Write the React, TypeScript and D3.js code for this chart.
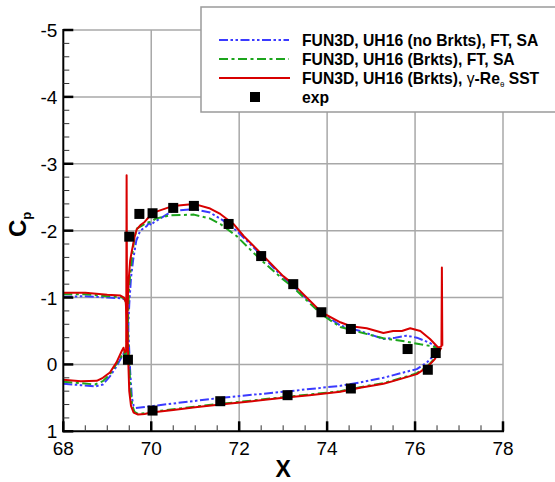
import React from "react";
import * as d3 from "d3";

type P = [number, number];

const xTicks = [68, 70, 72, 74, 76, 78];
const yTicks = [-5, -4, -3, -2, -1, 0, 1];

const seriesLabels = [
  "FUN3D, UH16 (no Brkts), FT, SA",
  "FUN3D, UH16 (Brkts), FT, SA",
  "FUN3D, UH16 (Brkts), ",
];

// blue: no brackets, FT, SA
const blueA: P[] = [
  [68, -1.01], [68.5, -1.02], [69, -1.0], [69.3, -0.99], [69.4, -0.97], [69.45, -0.9],
  [69.48, -0.5], [69.52, 0.1], [69.56, 0.5], [69.6, 0.62], [69.65, 0.65], [69.8, 0.64],
  [70.05, 0.62], [71.57, 0.5], [73.0, 0.41], [74.3, 0.32], [74.75, 0.27], [75.28, 0.2],
  [75.74, 0.12], [76.04, 0.07], [76.27, -0.03], [76.45, -0.15], [76.57, -0.23],
];
const blueB: P[] = [
  [68, 0.29], [68.4, 0.31], [68.72, 0.33], [68.9, 0.3], [69.06, 0.18], [69.2, 0.04],
  [69.3, -0.08], [69.38, -0.17], [69.42, -0.12], [69.46, -0.3], [69.5, -0.9], [69.54, -1.3],
  [69.59, -1.57], [69.66, -1.85], [69.75, -2.0], [69.9, -2.07], [69.95, -2.12], [70.0, -2.08],
  [70.05, -2.12], [70.5, -2.3], [70.97, -2.32], [71.34, -2.27], [71.64, -2.15], [71.94, -2.0],
  [72.48, -1.65], [73.0, -1.3], [73.23, -1.17], [73.87, -0.78], [74.3, -0.58], [74.75, -0.5],
  [75.28, -0.38], [75.55, -0.4], [75.81, -0.43], [76.04, -0.4], [76.34, -0.32], [76.57, -0.23],
];

// green: brackets, FT, SA
const greenA: P[] = [
  [68, -1.05], [68.5, -1.05], [69, -1.02], [69.3, -1.01], [69.4, -0.98], [69.44, -0.9],
  [69.47, -0.5], [69.5, 0.0], [69.53, 0.4], [69.57, 0.62], [69.62, 0.71], [69.7, 0.74],
  [69.85, 0.73], [70, 0.71], [70.5, 0.67], [71, 0.63], [71.57, 0.59], [72.3, 0.54],
  [73, 0.49], [73.6, 0.45], [74.3, 0.4], [74.75, 0.34], [75.28, 0.28], [75.5, 0.24],
  [75.81, 0.18], [76.04, 0.13], [76.27, 0.035], [76.45, -0.09], [76.57, -0.22],
];
const greenB: P[] = [
  [68, 0.26], [68.4, 0.28], [68.72, 0.3], [68.9, 0.25], [69.06, 0.15], [69.2, 0.0],
  [69.3, -0.1], [69.38, -0.18], [69.42, -0.12], [69.46, -0.5], [69.5, -1.2], [69.56, -1.6],
  [69.62, -1.9], [69.67, -2.03], [69.8, -2.08], [69.9, -2.12], [70.0, -2.13], [70.1, -2.18],
  [70.43, -2.23], [70.97, -2.24], [71.34, -2.18], [71.57, -2.1], [71.94, -1.92], [72.48, -1.57],
  [73.0, -1.27], [73.23, -1.15], [73.87, -0.75], [74.3, -0.56], [74.75, -0.48], [75.28, -0.39],
  [75.81, -0.34], [76.12, -0.3], [76.4, -0.27], [76.57, -0.23],
];

// red: brackets, gamma-Re_theta SST
const redA: P[] = [
  [68, -1.07], [68.5, -1.07], [69, -1.04], [69.3, -1.03], [69.38, -1.0], [69.42, -0.93],
  [69.46, -0.5], [69.48, 0.0], [69.5, 0.4], [69.54, 0.62], [69.6, 0.72], [69.7, 0.75],
  [69.85, 0.74], [70, 0.72], [70.5, 0.68], [71, 0.64], [71.57, 0.6], [72.3, 0.55],
  [73, 0.5], [73.6, 0.46], [74.3, 0.41], [74.75, 0.35], [75.28, 0.29], [75.5, 0.25],
  [75.81, 0.19], [76.04, 0.145], [76.27, 0.045], [76.45, -0.08], [76.55, -0.2], [76.6, -0.25],
];
const redB: P[] = [
  [68, 0.23], [68.4, 0.25], [68.76, 0.245], [68.9, 0.2], [69.06, 0.12], [69.21, -0.03],
  [69.33, -0.2], [69.37, -0.25], [69.4, -0.18], [69.43, -0.2], [69.44, -2.83], [69.45, -0.6],
  [69.48, -1.2], [69.52, -1.55], [69.56, -1.7], [69.62, -1.9], [69.67, -2.02], [69.75, -2.08],
  [69.85, -2.13], [69.9, -2.17], [70.05, -2.27], [70.5, -2.37], [70.97, -2.4], [71.34, -2.33],
  [71.57, -2.25], [71.87, -2.1], [72.1, -1.92], [72.48, -1.67], [73.0, -1.32], [73.23, -1.2],
  [73.87, -0.78], [74.3, -0.63], [74.54, -0.57], [74.9, -0.54], [75.28, -0.47], [75.5, -0.5],
  [75.7, -0.5], [75.89, -0.54], [76.12, -0.5], [76.34, -0.38], [76.53, -0.25], [76.6, -0.27],
  [76.61, -1.45], [76.62, -0.28],
];

const expX = [69.5, 69.73, 70.03, 70.5, 70.97, 71.76, 72.5, 73.23, 73.87, 74.54, 75.83, 76.47,
  69.47, 70.03, 71.57, 73.1, 74.54, 76.29];
const expCp = [-1.91, -2.25, -2.26, -2.34, -2.37, -2.1, -1.62, -1.2, -0.78, -0.53, -0.23, -0.17,
  -0.07, 0.69, 0.55, 0.46, 0.36, 0.08];

const BLUE = "#3a3aff";
const GREEN = "#1ca51c";
const RED = "#d80000";
const BLUE_DASH = "9,2.5,2.5,2.5,2.5,2.5";
const GREEN_DASH = "9,3.5,3,3.5";

export default function App() {
  const L = 63.3, R = 503, T = 30, B = 431.3;
  const x = d3.scaleLinear().domain([68, 78]).range([L, R]);
  const y = d3.scaleLinear().domain([-5, 1]).range([T, B]);
  const line = d3.line<P>().x((d) => x(d[0])).y((d) => y(d[1]));
  const xMinor = d3.range(68, 78.001, 0.5).filter((v) => Math.abs(v / 2 - Math.round(v / 2)) > 1e-6);
  const yMinor = d3.range(-5, 1.001, 0.2).filter((v) => Math.abs(v - Math.round(v)) > 1e-6);
  const font = "'Liberation Sans', Arial, sans-serif";
  const legendRows = [40, 59, 78, 97];
  return (
    <svg width={555} height={482} style={{ position: "absolute", left: 0, top: 0, background: "#fff" }} fontFamily={font}>
      {/* grid */}
      {xTicks.slice(1).map((t) => (
        <line key={"gx" + t} x1={x(t)} x2={x(t)} y1={T} y2={B} stroke="#a8a8a8" strokeWidth={1.5} />
      ))}
      {yTicks.slice(0, -1).map((t) => (
        <line key={"gy" + t} x1={L} x2={R} y1={y(t)} y2={y(t)} stroke="#a8a8a8" strokeWidth={1.5} />
      ))}
      {/* curves */}
      {[blueA, blueB].map((d, i) => (
        <path key={"b" + i} d={line(d) || ""} fill="none" stroke={BLUE} strokeWidth={2} strokeDasharray={BLUE_DASH} strokeLinejoin="round" />
      ))}
      {[greenA, greenB].map((d, i) => (
        <path key={"g" + i} d={line(d) || ""} fill="none" stroke={GREEN} strokeWidth={2} strokeDasharray={GREEN_DASH} strokeLinejoin="round" />
      ))}
      {[redA, redB].map((d, i) => (
        <path key={"r" + i} d={line(d) || ""} fill="none" stroke={RED} strokeWidth={2} strokeLinejoin="round" />
      ))}
      {/* exp */}
      {expX.map((v, i) => (
        <rect key={"e" + i} x={x(v) - 5} y={y(expCp[i]) - 5} width={10} height={10} fill="#000" />
      ))}
      {/* axes */}
      <line x1={L} x2={L} y1={T - 1} y2={B + 1} stroke="#000" strokeWidth={2} />
      <line x1={L - 1} x2={R + 1} y1={B} y2={B} stroke="#000" strokeWidth={2} />
      {xMinor.map((t) => (
        <line key={"xm" + t} x1={x(t)} x2={x(t)} y1={B} y2={B - 6} stroke="#333" strokeWidth={1} />
      ))}
      {xTicks.map((t) => (
        <line key={"xt" + t} x1={x(t)} x2={x(t)} y1={B} y2={B - 10} stroke="#000" strokeWidth={2.5} />
      ))}
      {yMinor.map((t) => (
        <line key={"ym" + t} x1={L} x2={L + 6} y1={y(t)} y2={y(t)} stroke="#333" strokeWidth={1} />
      ))}
      {yTicks.map((t) => (
        <line key={"yt" + t} x1={L} x2={L + 10} y1={y(t)} y2={y(t)} stroke="#000" strokeWidth={2.5} />
      ))}
      {xTicks.map((t) => (
        <text key={"xl" + t} x={x(t)} y={B + 24} fontSize={19} textAnchor="middle" fill="#000">{t}</text>
      ))}
      {yTicks.map((t) => (
        <text key={"yl" + t} x={L - 6} y={y(t) + 7} fontSize={19} textAnchor="end" fill="#000">{t}</text>
      ))}
      <text x={(L + R) / 2} y={477} fontSize={23} fontWeight="bold" textAnchor="middle">X</text>
      <text transform="translate(26,237) rotate(-90)" fontSize={24} fontWeight="bold">
        C<tspan fontSize={13} dy={5}>p</tspan>
      </text>
      {/* legend */}
      <rect x={201} y={7} width={370} height={105} fill="#fff" stroke="#9a9a9a" strokeWidth={1.5} />
      <line x1={219} x2={289} y1={legendRows[0]} y2={legendRows[0]} stroke={BLUE} strokeWidth={2} strokeDasharray={BLUE_DASH} />
      <line x1={219} x2={289} y1={legendRows[1]} y2={legendRows[1]} stroke={GREEN} strokeWidth={2} strokeDasharray={GREEN_DASH} />
      <line x1={219} x2={290} y1={legendRows[2]} y2={legendRows[2]} stroke={RED} strokeWidth={2} />
      <rect x={250} y={legendRows[3] - 5} width={10} height={10} fill="#000" />
      <g fontSize={15.7} fontWeight="bold" fill="#000">
        <text x={302} y={legendRows[0] + 5.5}>{seriesLabels[0]}</text>
        <text x={302} y={legendRows[1] + 5.5}>{seriesLabels[1]}</text>
        <text x={302} y={legendRows[2] + 5.5} xmlSpace="preserve">
          {seriesLabels[2]}
          <tspan fontWeight="normal">γ</tspan>
          <tspan>-Re</tspan>
          <tspan fontSize={8} fontWeight="normal" dy={3}>θ</tspan>
          <tspan dy={-3}> SST</tspan>
        </text>
        <text x={302} y={legendRows[3] + 5.5}>exp</text>
      </g>
    </svg>
  );
}
